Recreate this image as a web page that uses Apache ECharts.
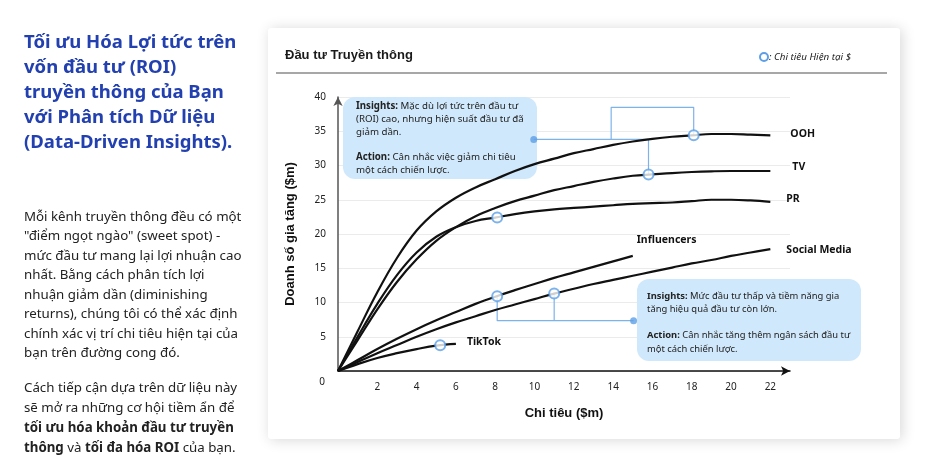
<!DOCTYPE html>
<html>
<head>
<meta charset="utf-8">
<script src="https://cdn.jsdelivr.net/npm/echarts@6/dist/echarts.min.js"></script>
<style>
html,body{margin:0;padding:0;background:#ffffff;}
#chart{width:938px;height:464px;}
</style>
</head>
<body>
<div id="chart"></div>
<script>
// ---- data ----
const xSpend = [0,1,2,3,4,5,6,7,8,9,10,11,12,13,14,15,16,17,18,19,20,21,22];
const oohY = [0,5.8,11.5,16.5,20.5,23.3,25.3,26.8,28.0,29.2,30.2,31.0,31.8,32.4,33.0,33.5,33.9,34.2,34.4,34.6,34.6,34.5,34.4];
const tvY = [0,4.5,9.0,13.0,16.3,19.0,21.0,22.6,23.8,24.8,25.6,26.4,27.0,27.6,28.1,28.5,28.7,28.9,29.05,29.15,29.2,29.2,29.2];
const prY = [0,5.0,9.8,14.0,17.3,19.6,21.0,21.9,22.4,22.9,23.3,23.6,23.8,24.0,24.2,24.4,24.5,24.6,24.8,25.0,25.0,24.9,24.7];
const influencerY = [0,1.6,3.2,4.7,6.1,7.4,8.6,9.8,10.85,11.8,12.7,13.6,14.4,15.2,16.0,16.8];
const socialY = [0,1.3,2.6,3.8,5.0,6.1,7.1,8.0,8.9,9.7,10.5,11.3,12.0,12.7,13.3,13.9,14.5,15.1,15.7,16.2,16.8,17.3,17.8];
const tiktokY = [0,1.0,1.9,2.6,3.2,3.7,3.95];
const seriesNames = ['OOH','TV','PR','Influencers','Social Media','TikTok'];

// current spend markers
const markerNames = ['OOH','TV','PR','Influencers','Social Media','TikTok'];
const markerX = [18.1,15.8,8.1,8.1,11.0,5.2];
const markerY = [34.42,28.7,22.4,10.9,11.3,3.75];

// annotation anchors (data units)
const anchorTop = [9.96,33.8];
const anchorTopBranch = [13.9,38.5];
const anchorBottom = [15.04,7.34];

// axis ticks
const yTicks = [0,5,10,15,20,25,30,35,40];
const xTicks = [0,2,4,6,8,10,12,14,16,18,20,22];

// ---- build ----
function pairs(ys){ return ys.map((v,i)=>[xSpend[i],v]); }
const curveData = [oohY,tvY,prY,influencerY,socialY,tiktokY];
const labelOffsets = [[20,-1],[22,-4],[16,-3],[4,-16],[16,1],[11,-1.5]];

const GEO = '"Noto Sans","Lato",sans-serif';
const ARIAL = '"Liberation Sans",Arial,sans-serif';
const BLUE = '#5d9fe6';
const CONN = '#7db3ea';

const series = [];
curveData.forEach((ys,k)=>{
  series.push({
    name: seriesNames[k], type:'line', data: pairs(ys), smooth:0.4, showSymbol:false, silent:true,
    lineStyle:{color:'#111',width:2.2}, z:3,
    endLabel:{show:true, formatter: seriesNames[k], distance:0, offset: labelOffsets[k],
      color:'#111', fontFamily:GEO, fontWeight:'bold', fontSize:10.5}
  });
});
const m = i => [markerX[i], markerY[i]];
const connectors = [
  [anchorTop, [markerX[1],anchorTop[1]], m(1)],
  [[anchorTopBranch[0],anchorTop[1]], anchorTopBranch, [markerX[0],anchorTopBranch[1]], m(0)],
  [m(3), [markerX[3],anchorBottom[1]], anchorBottom],
  [m(4), [markerX[4],anchorBottom[1]]]
];
connectors.forEach(c=>{
  series.push({type:'line', data:c, showSymbol:false, silent:true, lineStyle:{color:CONN,width:1.2}, z:2});
});
series.push({type:'scatter', data:[anchorTop,anchorBottom], symbol:'circle', symbolSize:7, silent:true,
  itemStyle:{color:BLUE}, z:4});
series.push({type:'scatter', data: markerX.map((x,i)=>[x,markerY[i]]), symbol:'circle', symbolSize:10, silent:true,
  itemStyle:{color:'#fff', borderColor:BLUE, borderWidth:2}, z:5});

const para1 = [
  'Mỗi kênh truyền thông đều có một',
  '"điểm ngọt ngào" (sweet spot) -',
  'mức đầu tư mang lại lợi nhuận cao',
  'nhất. Bằng cách phân tích lợi',
  'nhuận giảm dần (diminishing',
  'returns), chúng tôi có thể xác định',
  'chính xác vị trí chi tiêu hiện tại của',
  'bạn trên đường cong đó.'
].join('\n');
const para2 = [
  'Cách tiếp cận dựa trên dữ liệu này',
  'sẽ mở ra những cơ hội tiềm ẩn để',
  '{b|tối ưu hóa khoản đầu tư truyền}',
  '{b|thông} và {b|tối đa hóa ROI} của bạn.'
].join('\n');
const box1 = [
  '{b|Insights:} Mặc dù lợi tức trên đầu tư',
  '(ROI) cao, nhưng hiện suất đầu tư đã',
  'giảm dần.',
  ' ',
  '{b|Action:} Cân nhắc việc giảm chi tiêu',
  'một cách chiến lược.'
].join('\n');
const box2 = [
  '{b|Insights:} Mức đầu tư thấp và tiềm năng gia',
  'tăng hiệu quả đầu tư còn lớn.',
  ' ',
  '{b|Action:} Cân nhắc tăng thêm ngân sách đầu tư',
  'một cách chiến lược.'
].join('\n');

function richText(x,y,text,size,lh,color,z){
  return {type:'text', x:x, y:y, z:z||10, silent:true, style:{
    text:text, fontFamily:GEO, fontSize:size, lineHeight:lh, fill:color, verticalAlign:'top',
    rich:{b:{fontFamily:GEO, fontSize:size, lineHeight:lh, fontWeight:'bold', fill:color}}
  }};
}

const chart = echarts.init(document.getElementById('chart'), null, {renderer:'canvas'});
chart.setOption({
  backgroundColor:'#ffffff',
  animation:false,
  grid:{left:338, top:97, right:148, bottom:93, containLabel:false},
  xAxis:{type:'value', min:0, max:23, interval:2,
    axisLine:{show:true, symbol:['none','arrow'], symbolSize:[7,9], lineStyle:{color:'#111',width:1.5}},
    axisTick:{show:false}, splitLine:{show:false},
    axisLabel:{color:'#222', fontFamily:GEO, fontSize:10, margin:11,
      formatter: v => (xTicks.indexOf(v)>0 ? String(v) : '')},
    name:'Chi tiêu ($m)', nameLocation:'middle', nameGap:36,
    nameTextStyle:{fontFamily:ARIAL, fontWeight:'bold', fontSize:13, color:'#111'}
  },
  yAxis:{type:'value', min:0, max:40, interval:5,
    axisLine:{show:true, symbol:['none','arrow'], symbolSize:[7,9], lineStyle:{color:'#555',width:1.5}},
    axisTick:{show:false},
    splitLine:{show:true, lineStyle:{color:'#ebebeb',width:1}},
    axisLabel:{color:'#222', fontFamily:GEO, fontSize:10, margin:12,
      formatter: v => (yTicks.indexOf(v)>0 ? String(v) : '')},
    name:'Doanh số gia tăng ($m)', nameLocation:'middle', nameGap:41, nameRotate:90,
    nameTextStyle:{fontFamily:ARIAL, fontWeight:'bold', fontSize:13, color:'#111'}
  },
  graphic:[
    {type:'rect', z:-10, silent:true, shape:{x:268,y:28,width:632,height:411,r:3},
      style:{fill:'#fff', shadowBlur:14, shadowColor:'rgba(0,0,0,0.16)', shadowOffsetX:2, shadowOffsetY:1}},
    {type:'text', x:285, y:55, silent:true, style:{text:'Đầu tư Truyền thông', fontFamily:ARIAL, fontWeight:'bold', fontSize:13, fill:'#1a1a1a', verticalAlign:'middle'}},
    {type:'line', silent:true, shape:{x1:276,y1:73,x2:887,y2:73}, style:{stroke:'#8a8a8a', lineWidth:1.5}},
    {type:'circle', silent:true, shape:{cx:764,cy:57,r:4}, style:{fill:'#fff', stroke:BLUE, lineWidth:2}},
    {type:'text', x:769, y:57, silent:true, style:{text:': Chi tiêu Hiện tại $', fontFamily:GEO, fontStyle:'italic', fontSize:9.8, fill:'#222', verticalAlign:'middle'}},
    {type:'text', x:322, y:382, silent:true, style:{text:'0', fontFamily:GEO, fontSize:10, fill:'#222', align:'center', verticalAlign:'middle'}},
    // left panel
    {type:'text', x:24, y:30, silent:true, style:{text:'Tối ưu Hóa Lợi tức trên\nvốn đầu tư (ROI)\ntruyền thông của Bạn\nvới Phân tích Dữ liệu\n(Data-Driven Insights).',
      fontFamily:GEO, fontWeight:'bold', fontSize:18.5, lineHeight:25, fill:'#2240b0', verticalAlign:'top'}},
    richText(24,207,para1,13.3,19.5,'#222'),
    richText(24,378.5,para2,13.3,19.9,'#222'),
    // insight boxes
    {type:'rect', z:1, silent:true, shape:{x:343,y:97,width:194,height:82,r:12}, style:{fill:'#d0e8fb'}},
    richText(356,100,box1,9.7,12.8,'#222',1),
    {type:'rect', z:1, silent:true, shape:{x:637,y:279,width:224,height:82,r:12}, style:{fill:'#d0e8fb'}},
    richText(647,289.5,box2,9.4,13.2,'#222',1)
  ],
  series: series
});
</script>
</body>
</html>
